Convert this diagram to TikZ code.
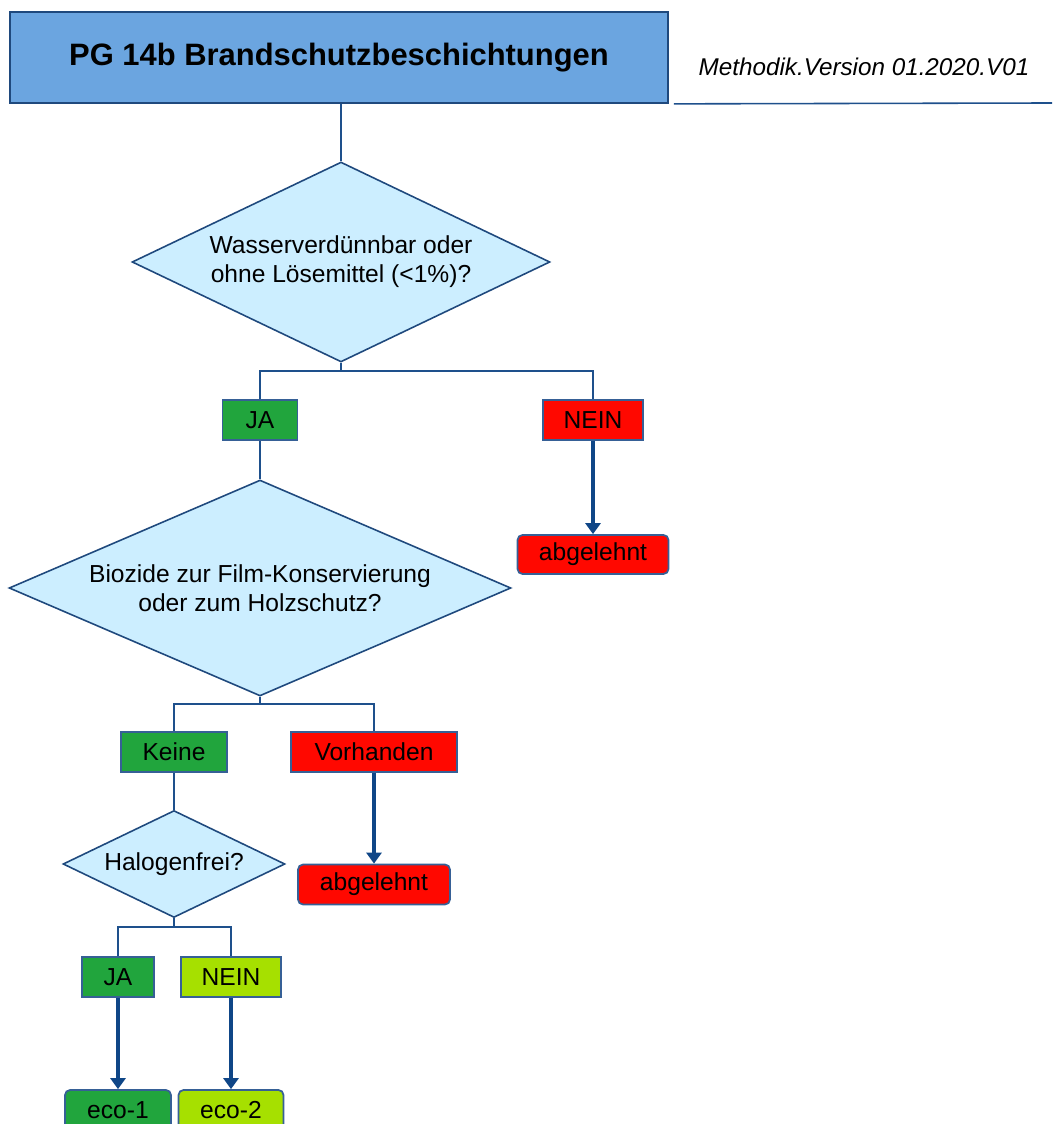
\documentclass[tikz,border=0pt]{standalone}
\usepackage{fontspec}
\setmainfont{Liberation Sans}
\usetikzlibrary{shapes.geometric,arrows.meta}

\definecolor{rahmen}{RGB}{31,73,125}
\definecolor{kastenrand}{RGB}{54,96,150}
\definecolor{kopfblau}{RGB}{107,165,224}
\definecolor{hellblau}{RGB}{204,238,255}
\definecolor{gruen}{RGB}{33,165,61}
\definecolor{hellgruen}{RGB}{166,224,0}
\definecolor{rot}{RGB}{255,8,0}
\definecolor{linienblau}{RGB}{30,80,140}
\definecolor{pfeilblau}{RGB}{15,70,135}

\tikzset{
	kopf/.style={draw=rahmen, line width=1pt, fill=kopfblau, minimum width=13.16cm, minimum height=1.82cm, font=\fontsize{17.6}{20}\selectfont\bfseries},
	frage/.style={diamond, draw=rahmen, line width=0.9pt, fill=hellblau, inner sep=0pt, align=center, font=\fontsize{14}{16.5}\selectfont},
	antwort/.style={rectangle, draw=kastenrand, line width=1pt, minimum height=0.8cm, inner sep=0pt, font=\fontsize{14}{16.5}\selectfont},
	ergebnis/.style={antwort, rounded corners=0.1cm},
	linie/.style={draw=linienblau, line width=0.9pt},
	pfeil/.style={draw=pfeilblau, line width=2.6pt, -{Triangle[length=0.22cm,width=0.3cm]}}
}

\begin{document}
\begin{tikzpicture}[x=0.02cm, y=-0.02cm]

		\useasboundingbox (0,0) rectangle (1052,1124);

		% Заголовок
		\node[kopf] (titel) at (339,57.5) {PG 14b Brandschutzbeschichtungen};
		\node[font=\fontsize{13.8}{16}\selectfont\itshape] (version) at (864,67) {Methodik.Version 01.2020.V01};
		\draw[linie] ([xshift=0.1cm]titel.south east) -- (1052,103);

		% Первый вопрос
		\node[frage, aspect=2.09, minimum width=8.36cm, minimum height=4cm] (frage1) at (341,262) {Wasserverdünnbar oder\\ohne Lösemittel (<1\%)?};
		\node[antwort, fill=gruen, minimum width=1.5cm] (ja1) at (260,420) {JA};
		\node[antwort, fill=rot, minimum width=2cm] (nein1) at (593,420) {NEIN};
		\node[ergebnis, fill=rot, minimum width=3.02cm, minimum height=0.78cm] (abgelehnt1) at (593,554.5) {abgelehnt};

		% Второй вопрос
		\node[frage, aspect=2.32, minimum width=10.04cm, minimum height=4.32cm] (frage2) at (260,588) {Biozide zur Film-Konservierung\\oder zum Holzschutz?};
		\node[antwort, fill=gruen, minimum width=2.12cm] (keine) at (174,752) {Keine};
		\node[antwort, fill=rot, minimum width=3.32cm] (vorhanden) at (374,752) {Vorhanden};
		\node[ergebnis, fill=rot, minimum width=3.04cm] (abgelehnt2) at (374,884.5) {abgelehnt};

		% Третий вопрос
		\node[frage, aspect=2.07, minimum width=4.44cm, minimum height=2.14cm] (frage3) at (174,864) {Halogenfrei?};
		\node[antwort, fill=gruen, minimum width=1.44cm] (ja2) at (118,977) {JA};
		\node[antwort, fill=hellgruen, minimum width=2cm] (nein2) at (231,977) {NEIN};
		\node[ergebnis, fill=gruen, minimum width=2.12cm] (eco1) at (118,1110) {eco-1};
		\node[ergebnis, fill=hellgruen, minimum width=2.1cm] (eco2) at (231,1110) {eco-2};

		% Линии
		\draw[linie] (frage1.north) -- (frage1.north |- titel.south);
		\draw[linie] (frage1.south) -- ++(0,8) coordinate (g1);
		\draw[linie] (ja1.north) |- (g1) -| (nein1.north);
		\draw[linie] (ja1.south) -- (frage2.north);
		\draw[linie] (frage2.south) -- ++(0,7) coordinate (g2);
		\draw[linie] (keine.north) |- (g2) -| (vorhanden.north);
		\draw[linie] (keine.south) -- (frage3.north);
		\draw[linie] (frage3.south) -- ++(0,9) coordinate (g3);
		\draw[linie] (ja2.north) |- (g3) -| (nein2.north);

		% Стрелки
		\draw[pfeil] (nein1) -- (abgelehnt1);
		\draw[pfeil] (vorhanden) -- (abgelehnt2);
		\draw[pfeil] (ja2) -- (eco1);
		\draw[pfeil] (nein2) -- (eco2);

\end{tikzpicture}
\end{document}
